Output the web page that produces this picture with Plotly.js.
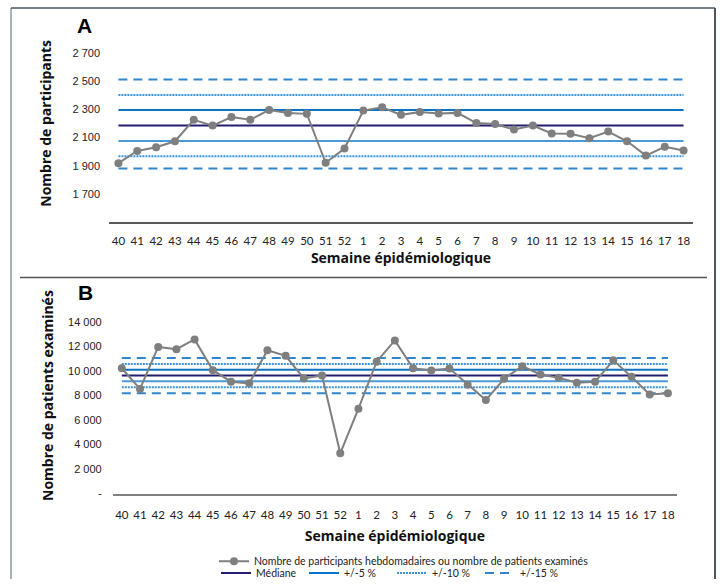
<!DOCTYPE html>
<html>
<head>
<meta charset="utf-8">
<script src="https://cdn.plot.ly/plotly-3.0.1.min.js"></script>
<style>
html,body{margin:0;padding:0;background:#fff;overflow:hidden;}
#chart{width:720px;height:588px;}
</style>
</head>
<body>
<div id="chart"></div>
<script>
// ---- DATA ----
const weeks = ['40','41','42','43','44','45','46','47','48','49','50','51','52',
  '1','2','3','4','5','6','7','8','9','10','11','12','13','14','15','16','17','18'];

const participantsA = [1918,2004,2031,2073,2225,2184,2244,2225,2295,2274,2267,1921,2022,
  2290,2313,2260,2281,2269,2274,2202,2195,2156,2184,2128,2126,2094,2142,2073,1972,2034,2008];

const patientsB = [10230,8540,11970,11780,12580,10070,9130,8995,11700,11240,9400,9640,3290,
  6930,10760,12500,10230,10040,10200,8890,7630,9370,10390,9720,9450,9050,9130,10870,9530,8085,8190];

// reference levels
const refA = {mediane:2185, plus5:2295, moins5:2075, plus10:2400, moins10:1967, plus15:2510, moins15:1880};
const refB = {mediane:9640, plus5:10100, moins5:9160, plus10:10580, moins10:8675, plus15:11060, moins15:8195};

const tickValsA = [1700,1900,2100,2300,2500,2700];
const tickTextA = ['1 700','1 900','2 100','2 300','2 500','2 700'];
const tickValsB = [0,2000,4000,6000,8000,10000,12000,14000];
const tickTextB = ['-','2 000','4 000','6 000','8 000','10 000','12 000','14 000'];

const legendNames = {
  data:'Nombre de participants hebdomadaires ou nombre de patients examinés',
  mediane:'Médiane', p5:'+/-5 %', p10:'+/-10 %', p15:'+/-15 %'
};

// ---- STYLES ----
const C_DATA = '#7f7f7f';
const C_MED = '#231f6e';
const C_5a = '#0b73c5';
const C_5b = '#4a9ad6';
const C_10 = '#3b94d9';
const C_15 = '#2f86cc';
const DOT = '2px,1px';
const DASH = '9px,6px';

function refTraces(ref, xa, ya, showLeg){
  const mk = (val, name, color, dash, group, leg) => ({
    type:'scatter', mode:'lines', x:weeks, y:weeks.map(()=>val),
    xaxis:xa, yaxis:ya, name:name, legendgroup:group,
    showlegend: showLeg && leg, legend:'legend2',
    line:{color:color, width:2, dash:dash}, hoverinfo:'skip'
  });
  return [
    mk(ref.plus15, legendNames.p15, C_15, DASH, 'p15', true),
    mk(ref.moins15, legendNames.p15, C_15, DASH, 'p15', false),
    mk(ref.plus10, legendNames.p10, C_10, DOT, 'p10', true),
    mk(ref.moins10, legendNames.p10, C_10, DOT, 'p10', false),
    mk(ref.plus5, legendNames.p5, C_5a, 'solid', 'p5', true),
    mk(ref.moins5, legendNames.p5, C_5b, 'solid', 'p5', false),
    mk(ref.mediane, legendNames.mediane, C_MED, 'solid', 'med', true),
  ];
}

const dataTrace = (y, xa, ya, leg) => ({
  type:'scatter', mode:'lines+markers', x:weeks, y:y, xaxis:xa, yaxis:ya,
  name:legendNames.data, legendgroup:'data', showlegend:leg, legend:'legend',
  line:{color:C_DATA, width:2}, marker:{color:C_DATA, size:8}
});

const traces = [
  ...refTraces(refA,'x','y',true),
  dataTrace(participantsA,'x','y',true),
  ...refTraces(refB,'x2','y2',false),
  dataTrace(patientsB,'x2','y2',false)
];

traces.forEach(t=>{
  t.legendrank = {data:1, med:2, p5:3, p10:4, p15:5}[t.legendgroup];
});

const tickFontY = {family:'Liberation Sans, Arial, sans-serif', size:11, color:'#222'};
const tickFontX = {family:'Lato, sans-serif', size:11.5, color:'#222'};
const titleFont = {family:'Open Sans, sans-serif', size:14, color:'#111', weight:'bold'};

const H = 588, W = 720;
const py = v => (H - v)/H;
const px = v => v/W;

const layout = {
  width:W, height:H,
  margin:{l:0,r:0,t:0,b:0},
  paper_bgcolor:'#fff', plot_bgcolor:'rgba(0,0,0,0)',
  showlegend:true,
  xaxis:{
    type:'category', domain:[px(109),px(693)], range:[-0.5,30.5], anchor:'y',
    showgrid:false, zeroline:false, showline:true, linecolor:'#5a5a5a', linewidth:1.3,
    ticks:'', tickfont:tickFontX, ticklabelstandoff:8,
    title:{text:'Semaine épidémiologique', font:titleFont, standoff:7}
  },
  yaxis:{
    domain:[py(225.7), py(24.8)], range:[1500,2900], anchor:'x',
    showgrid:false, zeroline:false, showline:false,
    tickvals:tickValsA, ticktext:tickTextA, tickfont:tickFontY, ticks:'', ticklabelstandoff:8,
    title:{text:'Nombre de participants', font:titleFont, standoff:17}
  },
  xaxis2:{
    type:'category', domain:[px(112.7),px(677)], range:[-0.5,30.5], anchor:'y2',
    showgrid:false, zeroline:false, showline:true, linecolor:'#808080', linewidth:2,
    ticks:'', tickfont:tickFontX, ticklabelstandoff:10,
    title:{text:'Semaine épidémiologique', font:titleFont, standoff:11}
  },
  yaxis2:{
    domain:[py(501.3), py(302.1)], range:[0,16000], anchor:'x2',
    showgrid:false, zeroline:false, showline:false,
    tickvals:tickValsB, ticktext:tickTextB, tickfont:tickFontY, ticks:'', ticklabelstandoff:10,
    title:{text:'Nombre de patients examinés', font:titleFont, standoff:11}
  },
  legend:{
    orientation:'h', x:px(214), y:py(570), xanchor:'left', yanchor:'middle',
    font:{family:'Lato, sans-serif', size:10.5, color:'#222'}, bgcolor:'rgba(0,0,0,0)',
    traceorder:'normal', itemwidth:30
  },
  legend2:{
    orientation:'h', x:px(216), y:py(582), xanchor:'left', yanchor:'middle',
    font:{family:'Lato, sans-serif', size:10.5, color:'#222'}, bgcolor:'rgba(0,0,0,0)',
    traceorder:'normal', itemwidth:30, entrywidth:43, entrywidthmode:'pixels'
  },
  annotations:[
    {text:'<b>A</b>', xref:'paper', yref:'paper', x:px(84), y:py(26), xanchor:'center', yanchor:'middle',
     showarrow:false, font:{family:'Liberation Sans, Arial, sans-serif', size:21, color:'#000'}},
    {text:'<b>B</b>', xref:'paper', yref:'paper', x:px(85), y:py(297.5), xanchor:'center', yanchor:'middle',
     showarrow:false, font:{family:'Liberation Sans, Arial, sans-serif', size:21, color:'#000'}}
  ],
  shapes:[
    {type:'line', xref:'paper', yref:'paper', x0:px(11), x1:px(11), y0:0, y1:py(8),
     line:{color:'#a9b1b9', width:2}},
    {type:'line', xref:'paper', yref:'paper', x0:px(715), x1:px(715), y0:0, y1:py(8),
     line:{color:'#4b5660', width:2}},
    {type:'line', xref:'paper', yref:'paper', x0:px(11), x1:px(715), y0:py(8), y1:py(8),
     line:{color:'#4b5660', width:1.5}},
    {type:'line', xref:'paper', yref:'paper', x0:px(20), x1:px(707), y0:py(281.7), y1:py(281.7),
     line:{color:'#555', width:1.5}}
  ]
};

Plotly.newPlot('chart', traces, layout, {staticPlot:true, displayModeBar:false});
</script>
</body>
</html>
